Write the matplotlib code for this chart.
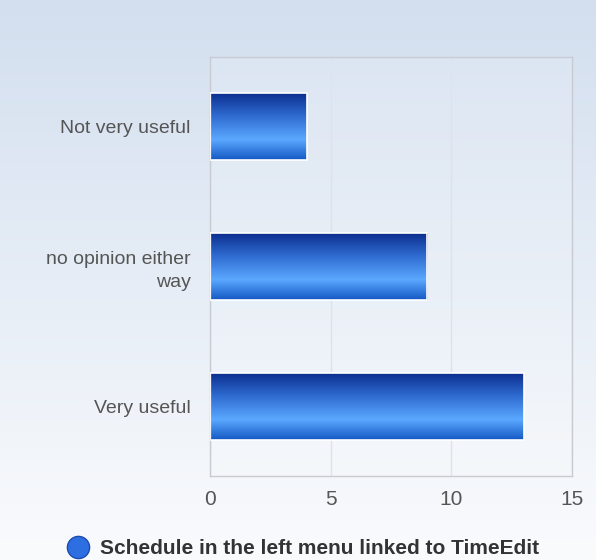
import numpy as np
import matplotlib
matplotlib.use("Agg")
import matplotlib.pyplot as plt
from matplotlib.colors import LinearSegmentedColormap
from matplotlib.lines import Line2D

categories = ["Very useful", "no opinion either\nway", "Not very useful"]
values = [13, 9, 4]
series_name = "Schedule in the left menu linked to TimeEdit"
xticks = [0, 5, 10, 15]

plt.rcParams['font.family'] = ['Liberation Sans', 'DejaVu Sans']

fig = plt.figure(figsize=(5.96, 5.6), dpi=100)

# figure background gradient
bg = fig.add_axes([0, 0, 1, 1], zorder=-10)
bg_cmap = LinearSegmentedColormap.from_list("bg", ["#d3dfef", "#e6edf6", "#fafbfd"])
bg.imshow(np.linspace(0, 1, 256).reshape(-1, 1), aspect="auto", cmap=bg_cmap,
          extent=[0, 1, 0, 1], origin="upper")
bg.set_axis_off()

ax = fig.add_axes([210/596, 1 - 476/560, 362/596, 419/560])
ax.set_facecolor((1, 1, 1, 0.15))

bar_cmap = LinearSegmentedColormap.from_list(
    "bar", [(0.0, "#0a2c8c"), (0.35, "#2f6bd0"), (0.7, "#5ba8ff"), (1.0, "#1458c4")])
grad = np.linspace(0, 1, 256).reshape(-1, 1)

h = 0.48
bars = ax.barh(range(len(categories)), values, height=h, color="none",
               edgecolor="white", linewidth=1.2, zorder=3)
for b in bars:
    x0, y0 = b.get_x(), b.get_y()
    w, hh = b.get_width(), b.get_height()
    im = ax.imshow(grad, aspect="auto", cmap=bar_cmap,
                   extent=[x0, x0 + w, y0, y0 + hh], origin="upper", zorder=2)
    im.set_clip_path(b)
ax.set_xlim(0, 15)
ax.set_ylim(-0.5, 2.5)

ax.set_xticks(xticks)
ax.set_yticks(range(len(categories)))
ax.set_yticklabels(categories, ha="right", linespacing=1.45)
ax.tick_params(axis="y", length=0, labelsize=14, colors="#555555", pad=14)
ax.tick_params(axis="x", length=0, labelsize=15, colors="#555555", pad=10)
for lbl in ax.get_yticklabels():
    lbl.set_multialignment("right")
ax.grid(axis="x", color="#dde3ec", linewidth=1)
ax.set_axisbelow(True)
for s in ax.spines.values():
    s.set_color("#c8ccd2")
    s.set_linewidth(1)

handle = Line2D([], [], marker="o", linestyle="none", markersize=16,
                markerfacecolor="#2d6fe0", markeredgecolor="#1a4cb0", markeredgewidth=1)
leg = fig.legend([handle], [series_name], loc="center", bbox_to_anchor=(0.5, 1 - 549/560),
                 frameon=False, handletextpad=0.05, prop={"weight": "bold", "size": 15})
for t in leg.get_texts():
    t.set_color("#333333")

fig.savefig("out.png", dpi=100)
